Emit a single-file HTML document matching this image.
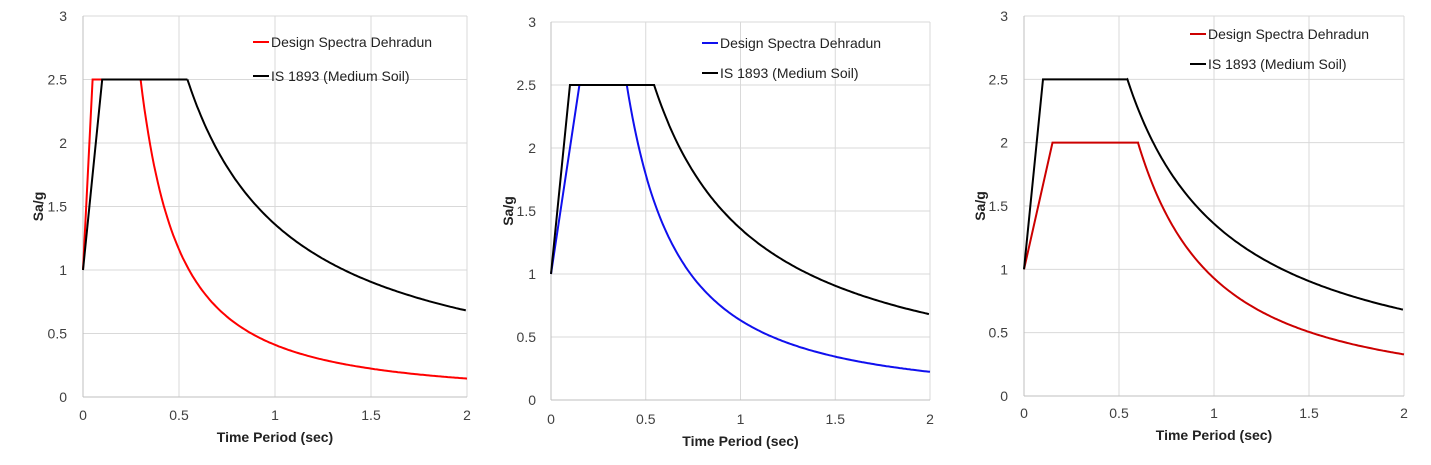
<!DOCTYPE html>
<html><head><meta charset="utf-8"><style>
body{margin:0;background:#fff;width:1431px;height:465px;overflow:hidden}
svg{display:block}
text{font-family:"Liberation Sans",sans-serif;fill:#404040;font-size:14px}
.t{font-weight:bold;fill:#222;font-size:14px}
.l{fill:#222;font-size:14px}
</style></head><body>
<svg id="s" width="1431" height="465" xmlns="http://www.w3.org/2000/svg"></svg>
<script>
const S=document.getElementById('s');let h='';
const P=[
 {x0:83,x1:467,y0:397,y3:16,col:'#ff0000',a:[0.05,2.5,0.3],lg:[253,42,76],tx:67,xl:420,yt:38},
 {x0:551,x1:930,y0:400,y3:22,col:'#1010ee',a:[0.15,2.5,0.4],lg:[702,43,73],tx:536,xl:424,yt:508},
 {x0:1024,x1:1404,y0:396,y3:16,col:'#cc0000',a:[0.15,2.0,0.6],lg:[1190,34,64],tx:1008,xl:418,yt:980}
];
P.forEach(p=>{
 const X=t=>p.x0+(p.x1-p.x0)*t/2, Y=v=>p.y0-(p.y0-p.y3)*v/3;
 for(let i=0;i<=6;i++){const y=Y(i*0.5);h+=`<line x1="${p.x0}" x2="${p.x1}" y1="${y}" y2="${y}" stroke="#d9d9d9"/>`;
  h+=`<text x="${p.tx}" y="${y+5}" text-anchor="end">${i*0.5}</text>`;}
 for(let i=0;i<=4;i++){const x=X(i*0.5);h+=`<line x1="${x}" x2="${x}" y1="${p.y3}" y2="${p.y0}" stroke="#d9d9d9"/>`;
  h+=`<text x="${x}" y="${p.xl}" text-anchor="middle">${i*0.5}</text>`;}
 h+=`<line x1="${p.x0}" x2="${p.x0}" y1="${p.y3}" y2="${p.y0}" stroke="#bfbfbf"/><line x1="${p.x0}" x2="${p.x1}" y1="${p.y0}" y2="${p.y0}" stroke="#bfbfbf"/>`;
 const f1=t=>t<0.1?1+15*t:Math.min(2.5,1.36/t);
 const [ta,pk,tb]=p.a;
 const f2=t=>t<ta?1+(pk-1)*t/ta:(t<tb?pk:pk*Math.pow(tb/t,1.5));
 const path=(f,br)=>{let d=`M${X(0)},${Y(f(0))}`;br.forEach(b=>d+=`L${X(b)},${Y(f(b))}`);for(let t=br[br.length-1];t<=2.0001;t+=0.01)d+=`L${X(t).toFixed(1)},${Y(f(t)).toFixed(1)}`;return d;};
 h+=`<path d="${path(f2,[ta,tb])}" fill="none" stroke="${p.col}" stroke-width="2"/>`;
 h+=`<path d="${path(f1,[0.1,0.544])}" fill="none" stroke="#000" stroke-width="2"/>`;
 const [lx,l1,l2]=p.lg;
 h+=`<line x1="${lx}" x2="${lx+16}" y1="${l1}" y2="${l1}" stroke="${p.col}" stroke-width="2"/><text class="l" x="${lx+18}" y="${l1+5}">Design Spectra Dehradun</text>`;
 h+=`<line x1="${lx}" x2="${lx+16}" y1="${l2}" y2="${l2}" stroke="#000" stroke-width="2"/><text class="l" x="${lx+18}" y="${l2+5}">IS 1893 (Medium Soil)</text>`;
 h+=`<text class="t" x="${(p.x0+p.x1)/2}" y="${p.xl+22}" text-anchor="middle">Time Period (sec)</text>`;
 const ym=(p.y0+p.y3)/2;
 h+=`<text class="t" transform="translate(${p.yt+5},${ym}) rotate(-90)" text-anchor="middle">Sa/g</text>`;
});
S.innerHTML=h;
</script>
</body></html>
